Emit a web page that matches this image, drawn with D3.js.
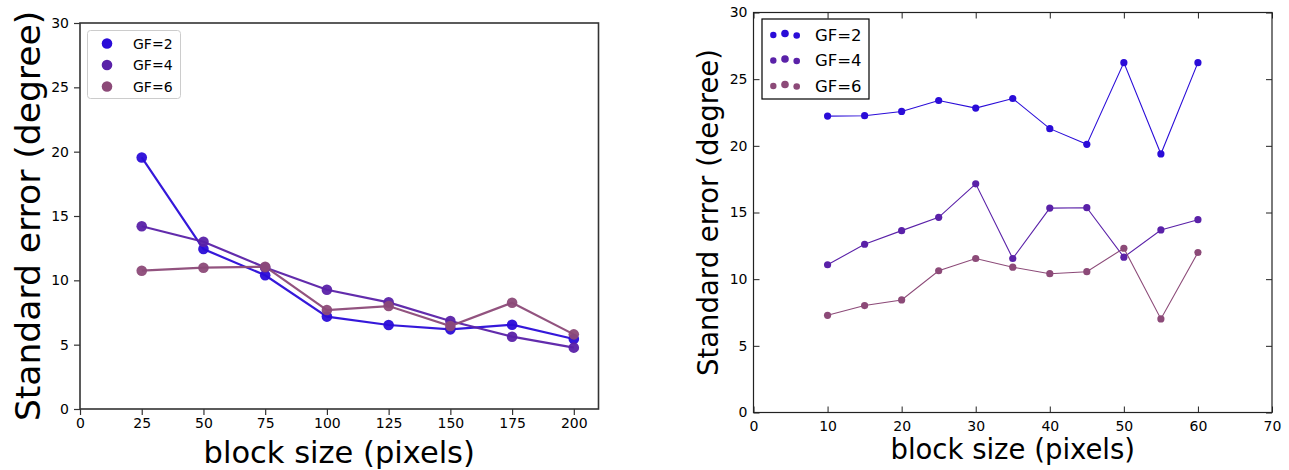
<!DOCTYPE html>
<html>
<head>
<meta charset="utf-8">
<script src="https://cdn.jsdelivr.net/npm/d3@7"></script>
<style>
  body { margin: 0; background: #fff; }
  svg text { font-family: "DejaVu Sans", sans-serif; fill: #000; }
</style>
</head>
<body>
<svg id="chart" width="1289" height="470"></svg>
<script>
// ---- data ----
const seriesNames = ["GF=2", "GF=4", "GF=6"];
const seriesColors = ["#2a0cd8", "#5a21a8", "#8c4a78"];

// left panel: larger block sizes
const leftBlock = [25, 50, 75, 100, 125, 150, 175, 200];
const leftGF2 = [19.55, 12.43, 10.39, 7.18, 6.53, 6.19, 6.55, 5.44];
const leftGF4 = [14.2, 13.0, 11.0, 9.27, 8.29, 6.84, 5.62, 4.77];
const leftGF6 = [10.75, 10.98, 11.06, 7.69, 8.0, 6.45, 8.26, 5.8];
const leftXTicks = [0, 25, 50, 75, 100, 125, 150, 175, 200];
const leftYTicks = [0, 5, 10, 15, 20, 25, 30];

// right panel: smaller block sizes
const rightBlock = [10, 15, 20, 25, 30, 35, 40, 45, 50, 55, 60];
const rightGF2 = [22.23, 22.26, 22.58, 23.4, 22.83, 23.55, 21.29, 20.11, 26.24, 19.39, 26.24];
const rightGF4 = [11.08, 12.62, 13.64, 14.64, 17.15, 11.55, 15.33, 15.36, 11.65, 13.69, 14.46];
const rightGF6 = [7.29, 8.02, 8.44, 10.63, 11.55, 10.9, 10.41, 10.56, 12.32, 7.02, 12.0];
const rightXTicks = [0, 10, 20, 30, 40, 50, 60, 70];
const rightYTicks = [0, 5, 10, 15, 20, 25, 30];

const xLabel = "block size (pixels)";
const yLabel = "Standard error (degree)";

const svg = d3.select("#chart");

// ---------- left panel ----------
(function () {
  const L = 80, R = 598.5, T = 23, B = 409;
  const x = d3.scaleLinear().domain([0, 210]).range([L, R]);
  const y = d3.scaleLinear().domain([0, 30]).range([B, T]);
  const g = svg.append("g");

  const series = [leftGF2, leftGF4, leftGF6];
  const line = d3.line().x((d, i) => x(leftBlock[i])).y(d => y(d));
  series.forEach((vals, s) => {
    g.append("path").datum(vals)
      .attr("d", line).attr("fill", "none")
      .attr("stroke", seriesColors[s]).attr("stroke-width", 2.2)
      .attr("stroke-opacity", 0.95);
  });
  series.forEach((vals, s) => {
    g.selectAll(null).data(vals).enter().append("circle")
      .attr("cx", (d, i) => x(leftBlock[i])).attr("cy", d => y(d))
      .attr("r", 5.3).attr("fill", seriesColors[s]).attr("fill-opacity", 0.95);
  });

  // frame
  g.append("rect").attr("x", L).attr("y", T).attr("width", R - L).attr("height", B - T)
    .attr("fill", "none").attr("stroke", "#333").attr("stroke-width", 1.6);

  const xa = g.append("g").attr("transform", `translate(0,${B})`)
    .call(d3.axisBottom(x).tickValues(leftXTicks).tickSize(6).tickPadding(3).tickSizeOuter(0));
  const ya = g.append("g").attr("transform", `translate(${L},0)`)
    .call(d3.axisLeft(y).tickValues(leftYTicks).tickSize(6).tickPadding(5).tickSizeOuter(0));
  [xa, ya].forEach(a => {
    a.select(".domain").remove();
    a.selectAll(".tick line").attr("stroke", "#333").attr("stroke-width", 1.2);
    a.selectAll(".tick text").attr("font-size", 14).attr("font-family", "DejaVu Sans").attr("fill", "#111");
  });

  g.append("text").attr("x", (L + R) / 2).attr("y", 462.5)
    .attr("text-anchor", "middle").attr("font-size", 30.5).text(xLabel);
  g.append("text").attr("transform", `translate(40,${(T + B) / 2}) rotate(-90)`)
    .attr("text-anchor", "middle").attr("font-size", 34.5).text(yLabel);

  // legend
  const lg = g.append("g");
  lg.append("rect").attr("x", 87.5).attr("y", 30.5).attr("width", 93).attr("height", 68)
    .attr("rx", 3).attr("fill", "#fff").attr("fill-opacity", 0.8)
    .attr("stroke", "#ccc").attr("stroke-width", 1);
  seriesNames.forEach((name, s) => {
    const cy = 43.5 + s * 21.5;
    lg.append("circle").attr("cx", 107).attr("cy", cy).attr("r", 5.3).attr("fill", seriesColors[s]);
    lg.append("text").attr("x", 133).attr("y", cy + 5).attr("font-size", 14).text(name);
  });
})();

// ---------- right panel ----------
(function () {
  const L = 753.5, R = 1272, T = 12.5, B = 412.5;
  const x = d3.scaleLinear().domain([0, 70]).range([L, R]);
  const y = d3.scaleLinear().domain([0, 30]).range([B, T]);
  const g = svg.append("g");

  const series = [rightGF2, rightGF4, rightGF6];
  const line = d3.line().x((d, i) => x(rightBlock[i])).y(d => y(d));
  series.forEach((vals, s) => {
    g.append("path").datum(vals)
      .attr("d", line).attr("fill", "none")
      .attr("stroke", seriesColors[s]).attr("stroke-width", 1.1);
  });
  series.forEach((vals, s) => {
    g.selectAll(null).data(vals).enter().append("circle")
      .attr("cx", (d, i) => x(rightBlock[i])).attr("cy", d => y(d))
      .attr("r", 3.6).attr("fill", seriesColors[s]);
  });

  // inward ticks on all four sides
  const ax = [
    g.append("g").attr("transform", `translate(0,${B})`)
      .call(d3.axisBottom(x).tickValues(rightXTicks).tickSize(-6).tickPadding(9).tickSizeOuter(0)),
    g.append("g").attr("transform", `translate(${L},0)`)
      .call(d3.axisLeft(y).tickValues(rightYTicks).tickSize(-6).tickPadding(6).tickSizeOuter(0)),
    g.append("g").attr("transform", `translate(0,${T})`)
      .call(d3.axisTop(x).tickValues(rightXTicks).tickSize(-6).tickFormat("").tickSizeOuter(0)),
    g.append("g").attr("transform", `translate(${R},0)`)
      .call(d3.axisRight(y).tickValues(rightYTicks).tickSize(-6).tickFormat("").tickSizeOuter(0))
  ];
  ax.forEach(a => {
    a.select(".domain").remove();
    a.selectAll(".tick line").attr("stroke", "#222").attr("stroke-width", 1);
    a.selectAll(".tick text").attr("font-size", 14).attr("font-family", "DejaVu Sans").attr("fill", "#111");
  });

  g.append("rect").attr("x", L).attr("y", T).attr("width", R - L).attr("height", B - T)
    .attr("fill", "none").attr("stroke", "#222").attr("stroke-width", 1.2);

  g.append("text").attr("x", (L + R) / 2).attr("y", 459)
    .attr("text-anchor", "middle").attr("font-size", 27.5).text(xLabel);
  g.append("text").attr("transform", `translate(718,${(T + B) / 2}) rotate(-90)`)
    .attr("text-anchor", "middle").attr("font-size", 27.5).text(yLabel);

  // legend with three scatter points per entry
  const lg = g.append("g");
  lg.append("rect").attr("x", 762).attr("y", 19).attr("width", 107).attr("height", 80)
    .attr("fill", "#fff").attr("stroke", "#000").attr("stroke-width", 1.2);
  const dotX = [773.3, 785, 796.7];
  const dotDy = [0.5, -1, 1];
  const dotR = [3.2, 3.8, 3.3];
  seriesNames.forEach((name, s) => {
    const cy = 34.5 + s * 25.5;
    dotX.forEach((dx, k) => {
      lg.append("circle").attr("cx", dx).attr("cy", cy + dotDy[k]).attr("r", dotR[k]).attr("fill", seriesColors[s]);
    });
    lg.append("text").attr("x", 815).attr("y", cy + 6).attr("font-size", 16.5).text(name);
  });
})();
</script>
</body>
</html>
